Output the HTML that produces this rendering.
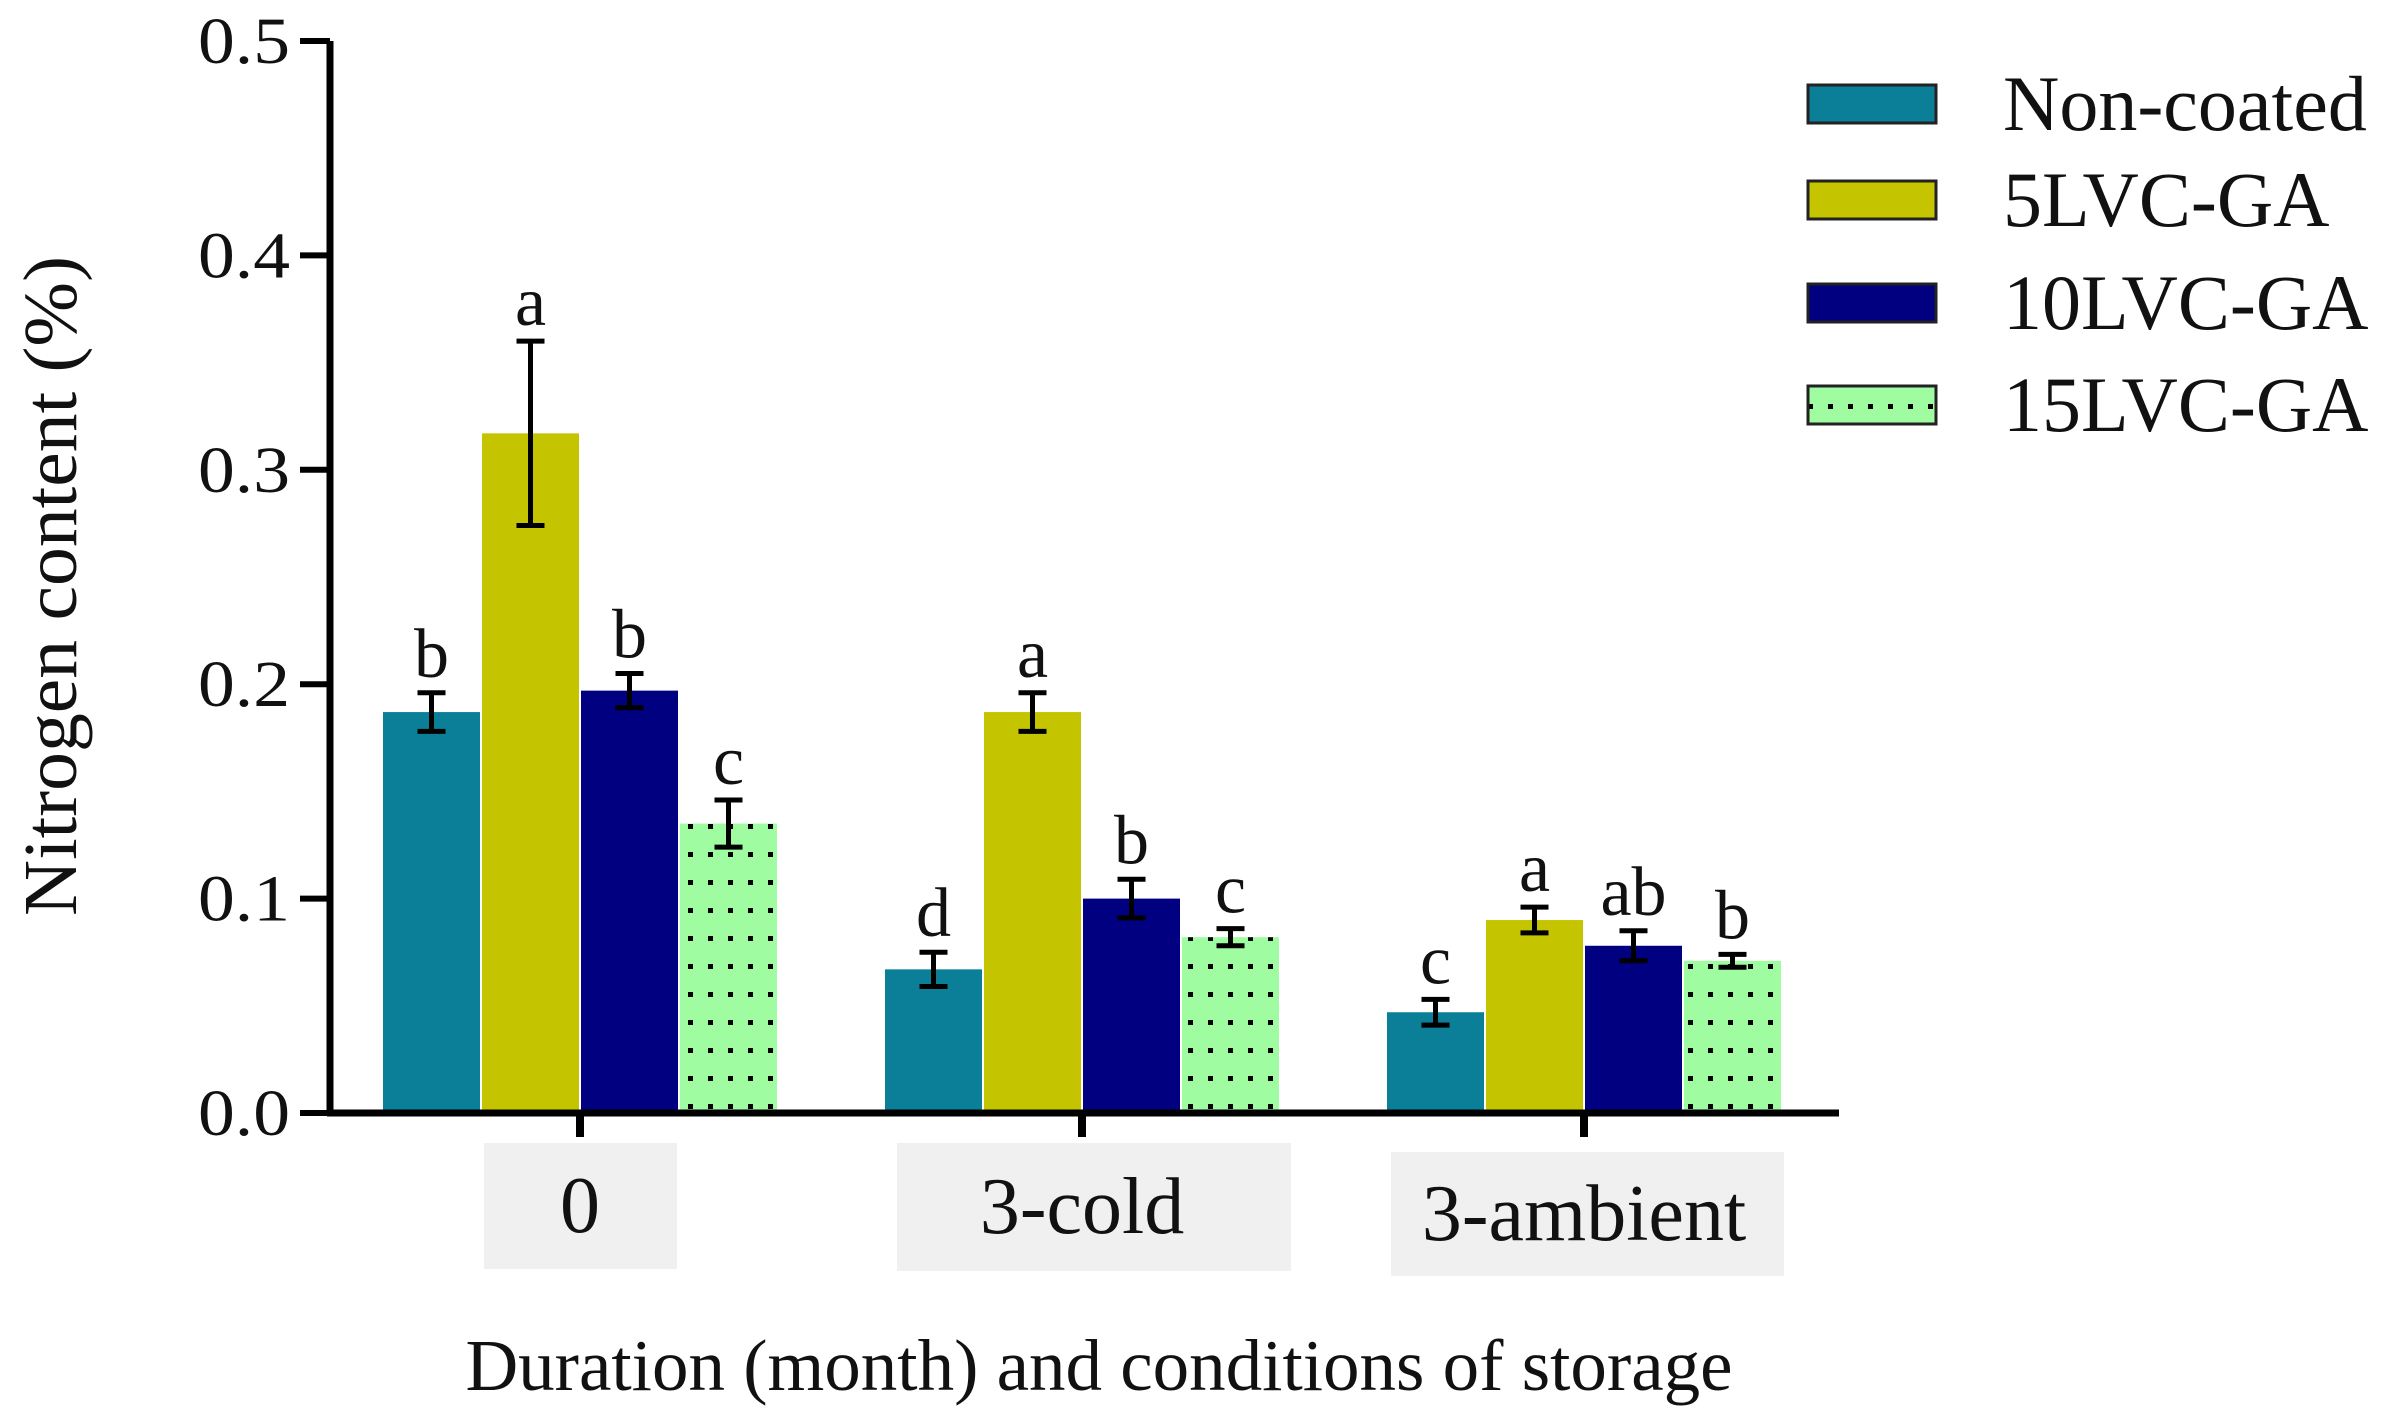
<!DOCTYPE html>
<html><head><meta charset="utf-8"><style>
html,body{margin:0;padding:0;background:#fff;}
svg{display:block;font-family:"Liberation Serif",serif;}
</style></head><body>
<svg id="chart" width="2387" height="1422" viewBox="0 0 2387 1422">
<defs>
<pattern id="dots" width="20" height="28" patternUnits="userSpaceOnUse">
<rect width="20" height="28" fill="#9ffca0"/>
<rect x="8" y="12" width="5" height="5" fill="#000"/>
</pattern>
</defs>
<g id="plot"></g>
</svg>
<script>
const categories = ["0", "3-cold", "3-ambient"];
const seriesNames = ["Non-coated", "5LVC-GA", "10LVC-GA", "15LVC-GA"];
const nonCoated = [0.187, 0.067, 0.047];
const lvc5 = [0.317, 0.187, 0.090];
const lvc10 = [0.197, 0.100, 0.078];
const lvc15 = [0.135, 0.082, 0.071];
const errNonCoated = [0.009, 0.008, 0.006];
const errLvc5 = [0.043, 0.009, 0.006];
const errLvc10 = [0.008, 0.009, 0.007];
const errLvc15 = [0.011, 0.004, 0.003];
const lettersNonCoated = ["b", "d", "c"];
const lettersLvc5 = ["a", "a", "a"];
const lettersLvc10 = ["b", "b", "ab"];
const lettersLvc15 = ["c", "c", "b"];
const yTicks = ["0.0", "0.1", "0.2", "0.3", "0.4", "0.5"];

const NS = "http://www.w3.org/2000/svg";
const svg = document.getElementById("plot");
const X0 = 330, Y0 = 1113, YTOP = 41, XEND = 1839;
const yScale = v => Y0 - (v / 0.5) * (Y0 - YTOP);
const groupCenter = i => 580 + i * 502;
const BW = 99;
const fills = ["#0b7e98", "#c4c400", "#000080", "url(#dots)"];
const vals = [nonCoated, lvc5, lvc10, lvc15];
const errs = [errNonCoated, errLvc5, errLvc10, errLvc15];
const letters = [lettersNonCoated, lettersLvc5, lettersLvc10, lettersLvc15];
function mk(tag, attrs, parent) {
  const e = document.createElementNS(NS, tag);
  for (const k in attrs) e.setAttribute(k, attrs[k]);
  (parent || svg).appendChild(e);
  return e;
}
const boxes = [[484, 1143, 193, 126], [897, 1143, 394, 128], [1391, 1152, 393, 124]];
categories.forEach((c, i) => {
  const b = boxes[i];
  const r = mk("rect", {x: b[0], y: b[1], width: b[2], height: b[3], fill: "#f0f0f0"});
  
  
  const t = mk("text", {x: groupCenter(i), y: b[1] + b[3] / 2 + 26, "text-anchor": "middle", "font-size": 80, fill: "#111"});
  t.textContent = c;
  
  
});
for (let s = 0; s < 4; s++) {
  for (let i = 0; i < categories.length; i++) {
    const x = groupCenter(i) - 2 * BW + s * BW;
    const v = vals[s][i], e = errs[s][i];
    const r = mk("rect", {x: x + 1, y: yScale(v), width: BW - 2, height: Y0 - yScale(v), fill: fills[s]});
    
    
    const cx = x + BW / 2, yt = yScale(v + e), yb = yScale(v - e);
    const eb = mk("path", {d: `M${cx},${yt}V${yb}M${cx-14},${yt}H${cx+14}M${cx-14},${yb}H${cx+14}`, stroke: "#000", "stroke-width": 5, fill: "none"});
    
    
    const t = mk("text", {x: cx, y: yt - 16, "text-anchor": "middle", "font-size": 70, fill: "#111"});
    t.textContent = letters[s][i];
    
    
  }
}
const ax = mk("path", {d: `M${X0},${YTOP}V${Y0}M${X0-3},${Y0}H${XEND}`, stroke: "#000", "stroke-width": 7, fill: "none"});


yTicks.forEach(l => {
  const y = yScale(parseFloat(l));
  const tk = mk("line", {x1: X0 - 30, x2: X0, y1: y, y2: y, stroke: "#000", "stroke-width": 6});
  
  
  const t = mk("text", {x: 290, y: y + 22, "text-anchor": "end", "font-size": 66, fill: "#111", textLength: 92, lengthAdjust: "spacingAndGlyphs"});
  t.textContent = l;
  
  
});
categories.forEach((c, i) => {
  const tk = mk("line", {x1: groupCenter(i), x2: groupCenter(i), y1: Y0, y2: Y0 + 24, stroke: "#000", "stroke-width": 8});
  
  
});
const yt = mk("text", {x: 0, y: 0, transform: "translate(76,586) rotate(-90)", "text-anchor": "middle", "font-size": 76, fill: "#111", textLength: 660, lengthAdjust: "spacingAndGlyphs"});
yt.textContent = "Nitrogen content (%)";


const xt = mk("text", {x: 1099, y: 1390, "text-anchor": "middle", "font-size": 73, fill: "#111"});
xt.textContent = "Duration (month) and conditions of storage";


const legY = [104, 200, 303, 405];
seriesNames.forEach((n, s) => {
  const r = mk("rect", {x: 1808, y: legY[s] - 19, width: 128, height: 38, fill: fills[s], stroke: "#222", "stroke-width": 3});
  
  
  const t = mk("text", {x: 2003, y: legY[s] + 26, "font-size": 78, fill: "#111"});
  t.textContent = n;
  
  
});
</script>
</body></html>
